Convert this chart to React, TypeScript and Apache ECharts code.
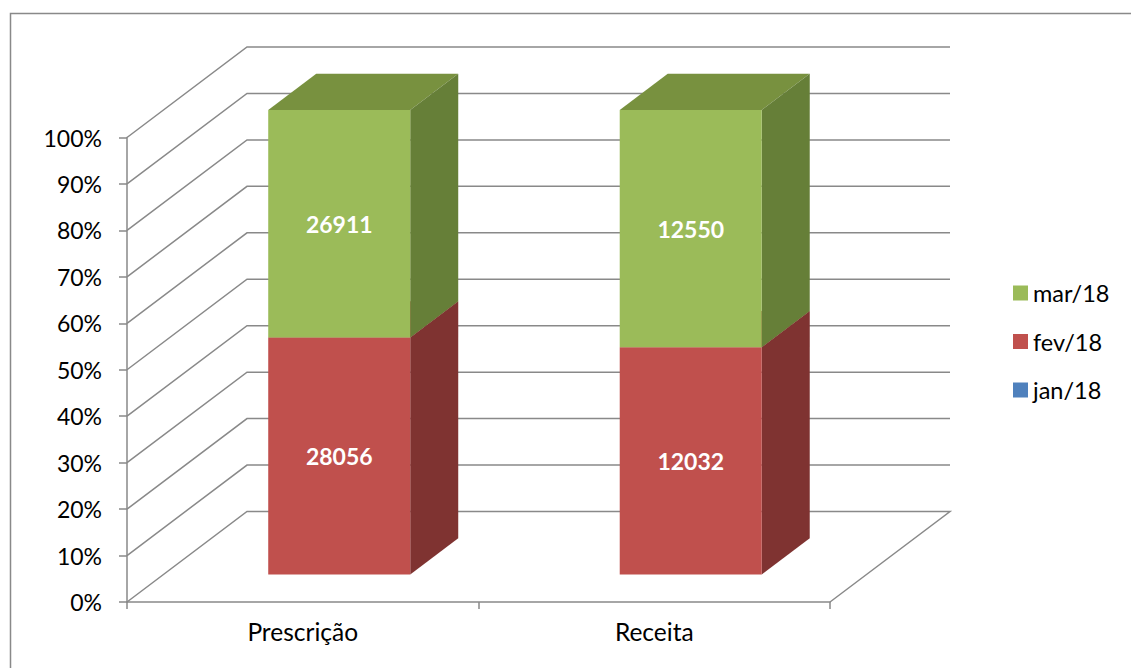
import React, { useEffect, useRef } from 'react';
import * as echarts from 'echarts';

const categories = ['Prescrição', 'Receita'];
const jan18 = [0, 0];
const fev18 = [28056, 12032];
const mar18 = [26911, 12550];
const seriesNames = ['jan/18', 'fev/18', 'mar/18'];
const legendOrder = ['mar/18', 'fev/18', 'jan/18'];
const yTicks = [0, 10, 20, 30, 40, 50, 60, 70, 80, 90, 100];

const FONT = 'Lato, "Open Sans", sans-serif';
const DEPTH_X = 120;
const DEPTH_Y = -90.5;
const BAR_FRONT = 0.304;
const BAR_BACK = 0.704;
const BAR_RATIO = 0.404;
const GRID_COLOR = '#898989';

const colors = [
  { front: '#4F81BD', side: '#385D8A', top: '#42699A' },
  { front: '#C0504D', side: '#7F3331', top: '#A04341' },
  { front: '#9BBB59', side: '#667F38', top: '#78913F' },
];

function buildSegments() {
  const all = [jan18, fev18, mar18];
  const totals = categories.map((_, i) => all.reduce((s, arr) => s + arr[i], 0));
  const cum = categories.map(() => 0);
  return all.map((arr) =>
    arr.map((v, i) => {
      const pct = (v / totals[i]) * 100;
      const start = cum[i];
      cum[i] += pct;
      return [i, start, start + pct, v];
    })
  );
}

export default function App() {
  const ref = useRef<HTMLDivElement>(null);
  useEffect(() => {
    if (!ref.current) return;
    const chart = echarts.init(ref.current, undefined, { renderer: 'svg' });
    const segs = buildSegments();

    const barSeries = segs.map((data, si) => ({
      type: 'custom',
      name: seriesNames[si],
      silent: true,
      itemStyle: { color: colors[si].front },
      data,
      encode: { x: 0, y: [1, 2] },
      renderItem: (params: any, api: any) => {
        const i = api.value(0);
        const s = api.value(1);
        const e = api.value(2);
        const raw = api.value(3);
        if (!(e - s > 0)) return { type: 'group', children: [] };
        const band = api.size([1, 0])[0];
        const w = band * BAR_RATIO;
        const p0 = api.coord([i, s]);
        const p1 = api.coord([i, e]);
        const cx = p0[0];
        const fx = BAR_FRONT * DEPTH_X;
        const fy = BAR_FRONT * DEPTH_Y;
        const ddx = (BAR_BACK - BAR_FRONT) * DEPTH_X;
        const ddy = (BAR_BACK - BAR_FRONT) * DEPTH_Y;
        const L = cx - w / 2 + fx;
        const R = cx + w / 2 + fx;
        const B = p0[1] + fy;
        const T = p1[1] + fy;
        const c = colors[si];
        return {
          type: 'group',
          children: [
            {
              type: 'polygon',
              shape: { points: [[L, T], [L + ddx, T + ddy], [R + ddx, T + ddy], [R, T]] },
              style: { fill: c.top },
            },
            {
              type: 'polygon',
              shape: { points: [[R, B], [R + ddx, B + ddy], [R + ddx, T + ddy], [R, T]] },
              style: { fill: c.side },
            },
            {
              type: 'rect',
              shape: { x: L, y: T, width: R - L, height: B - T },
              style: { fill: c.front },
            },
            {
              type: 'text',
              style: {
                text: String(raw),
                x: (L + R) / 2,
                y: (T + B) / 2,
                fill: '#ffffff',
                fontSize: 23,
                fontWeight: 'bold',
                fontFamily: FONT,
                align: 'center',
                verticalAlign: 'middle',
              },
            },
          ],
        };
      },
    }));

    const gridSeries = {
      type: 'custom',
      name: 'walls',
      silent: true,
      data: yTicks.map((v) => [0, v]),
      encode: { x: 0, y: 1 },
      renderItem: (params: any, api: any) => {
        const v = api.value(1);
        const cs = params.coordSys;
        const y = api.coord([0, v])[1];
        const x0 = cs.x;
        const x1 = cs.x + cs.width;
        const pts: number[][] = [[x0, y], [x0 + DEPTH_X, y + DEPTH_Y], [x1 + DEPTH_X, y + DEPTH_Y]];
        if (v === 0) pts.push([x1, y]);
        return {
          type: 'polyline',
          shape: { points: pts },
          style: { stroke: GRID_COLOR, lineWidth: 1.5, fill: null },
        };
      },
    };

    chart.setOption({
      animation: false,
      backgroundColor: '#ffffff',
      grid: { left: 127, top: 137.5, width: 703, height: 464.5, containLabel: false },
      graphic: [
        {
          type: 'rect',
          left: 8,
          top: 11,
          shape: { width: 1300, height: 800 },
          style: { fill: 'none', stroke: GRID_COLOR, lineWidth: 1.5 },
          silent: true,
        },
      ],
      legend: {
        data: legendOrder,
        orient: 'vertical',
        left: 1013,
        top: 281,
        padding: 0,
        icon: 'rect',
        itemWidth: 15,
        itemHeight: 15,
        itemGap: 24.5,
        selectedMode: false,
        textStyle: { fontSize: 23.5, lineHeight: 23, fontFamily: FONT, color: '#000' },
      },
      xAxis: {
        type: 'category',
        data: categories,
        boundaryGap: true,
        axisLine: { show: true, lineStyle: { color: GRID_COLOR, width: 1.5 } },
        axisTick: { show: true, length: 7, alignWithLabel: false, lineStyle: { color: GRID_COLOR, width: 1.5 } },
        axisLabel: { fontSize: 24.5, fontFamily: FONT, color: '#000', margin: 17 },
        splitLine: { show: false },
      },
      yAxis: {
        type: 'value',
        min: 0,
        max: 100,
        interval: 10,
        axisLine: { show: true, lineStyle: { color: GRID_COLOR, width: 1.5 } },
        axisTick: { show: true, length: 8, lineStyle: { color: GRID_COLOR, width: 1.5 } },
        axisLabel: { fontSize: 23, fontFamily: FONT, color: '#000', margin: 25, formatter: '{value}%' },
        splitLine: { show: false },
      },
      series: [gridSeries, ...barSeries],
    });
    return () => chart.dispose();
  }, []);
  return <div ref={ref} style={{ position: 'absolute', left: 0, top: 0, width: 1131, height: 668 }} />;
}
